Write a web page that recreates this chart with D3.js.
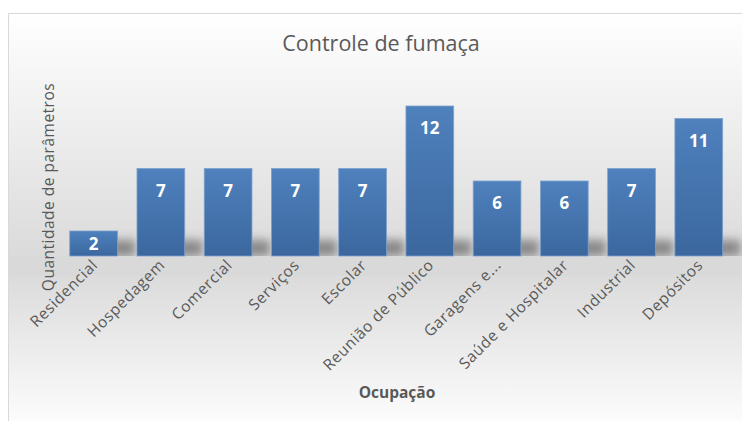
<!DOCTYPE html>
<html>
<head>
<meta charset="utf-8">
<script src="https://cdn.jsdelivr.net/npm/d3@7"></script>
<style>
  body { margin: 0; background: #fff; }
  svg { display: block; }
</style>
</head>
<body>
<div id="container"></div>
<script>
const categories = ["Residencial", "Hospedagem", "Comercial", "Serviços", "Escolar",
  "Reunião de Público", "Garagens e...", "Saúde e Hospitalar", "Industrial", "Depósitos"];
const values = [2, 7, 7, 7, 7, 12, 6, 6, 7, 11];

const width = 742;
const height = 421;
const margin = { top: 106, right: 9, bottom: 165, left: 60 };
const font = "'Open Sans', 'DejaVu Sans', sans-serif";

const svg = d3.select("#container").append("svg")
  .attr("width", width)
  .attr("height", height);

const defs = svg.append("defs");

// background gradient
const bg = defs.append("linearGradient")
  .attr("id", "bg").attr("x1", 0).attr("y1", 0).attr("x2", 0).attr("y2", 1);
bg.append("stop").attr("offset", "0%").attr("stop-color", "#ffffff");
bg.append("stop").attr("offset", "60%").attr("stop-color", "#d9d9d9");
bg.append("stop").attr("offset", "100%").attr("stop-color", "#ffffff");

// bar gradient
const barGrad = defs.append("linearGradient")
  .attr("id", "barGrad").attr("x1", 0).attr("y1", 0).attr("x2", 0).attr("y2", 1);
barGrad.append("stop").attr("offset", "0%").attr("stop-color", "#4f81bd");
barGrad.append("stop").attr("offset", "100%").attr("stop-color", "#3b679e");

const blur = defs.append("filter").attr("id", "blur")
  .attr("x", "-50%").attr("y", "-100%").attr("width", "200%").attr("height", "300%");
blur.append("feGaussianBlur").attr("stdDeviation", 5);

svg.append("rect")
  .attr("x", 8.5).attr("y", 13.5)
  .attr("width", width).attr("height", height)
  .attr("fill", "url(#bg)")
  .attr("stroke", "#d9d9d9");

const x = d3.scaleBand()
  .domain(categories)
  .range([margin.left, width - margin.right - 0.6])
  .paddingInner(0.29)
  .paddingOuter(0.145);

const y = d3.scaleLinear()
  .domain([0, 12])
  .range([height - margin.bottom, margin.top]);

const data = categories.map((c, i) => ({ cat: c, v: values[i] }));

// floor shadow
svg.append("g")
  .attr("filter", "url(#blur)")
  .selectAll("rect")
  .data(data)
  .join("rect")
  .attr("x", d => x(d.cat) + 10)
  .attr("y", y(0) - 16)
  .attr("width", x.bandwidth() + 8)
  .attr("height", 16)
  .attr("fill", "#444")
  .attr("opacity", 0.55);

// cover shadow below the baseline
svg.append("rect")
  .attr("x", 9).attr("y", y(0))
  .attr("width", width).attr("height", 20)
  .attr("fill", "#d9d9d9");

svg.append("g")
  .selectAll("rect")
  .data(data)
  .join("rect")
  .attr("x", d => x(d.cat))
  .attr("y", d => y(d.v))
  .attr("width", x.bandwidth())
  .attr("height", d => y(0) - y(d.v))
  .attr("fill", "url(#barGrad)")
  .attr("stroke", "#7ea1cf")
  .attr("stroke-width", 0.8);

svg.append("g")
  .selectAll("text")
  .data(data)
  .join("text")
  .attr("x", d => x(d.cat) + x.bandwidth() / 2)
  .attr("y", d => {
    const h = y(0) - y(d.v);
    return h < 40 ? y(d.v) + h / 2 + 6 : y(d.v) + 28;
  })
  .attr("text-anchor", "middle")
  .attr("fill", "#ffffff")
  .attr("font-family", font)
  .attr("font-weight", "bold")
  .attr("font-size", 17)
  .text(d => d.v);

// x axis labels
const xAxis = g => g
  .attr("transform", `translate(0,${y(0)})`)
  .call(d3.axisBottom(x).tickSize(0).tickPadding(0))
  .call(g => g.select(".domain").remove())
  .call(g => g.selectAll("text")
    .attr("font-family", font)
    .attr("font-size", 15.5)
    .attr("letter-spacing", 0.6)
    .attr("fill", "#595959")
    .attr("text-anchor", "end")
    .attr("dy", 0)
    .attr("transform", "translate(5,10) rotate(-45)"));

svg.append("g").call(xAxis);

svg.append("text")
  .attr("x", 381).attr("y", 51)
  .attr("text-anchor", "middle")
  .attr("font-family", font)
  .attr("font-size", 21.5)
  .attr("fill", "#595959")
  .text("Controle de fumaça");

svg.append("text")
  .attr("transform", `translate(54,${187}) rotate(-90)`)
  .attr("text-anchor", "middle")
  .attr("font-family", font)
  .attr("font-size", 15.5)
  .attr("letter-spacing", 0.5)
  .attr("fill", "#595959")
  .text("Quantidade de parâmetros");

svg.append("text")
  .attr("x", 397).attr("y", 398)
  .attr("text-anchor", "middle")
  .attr("font-family", font)
  .attr("font-weight", "bold")
  .attr("font-size", 15.5)
  .attr("fill", "#595959")
  .text("Ocupação");
</script>
</body>
</html>
